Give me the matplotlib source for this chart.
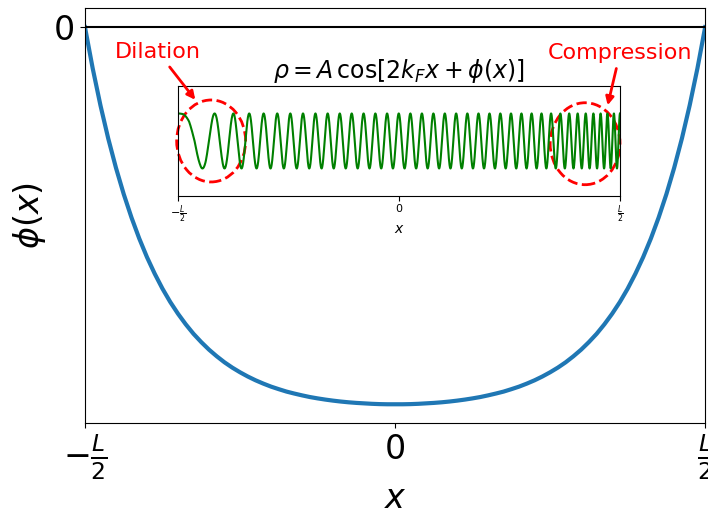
import numpy as np
import matplotlib.pyplot as plt
from matplotlib.patches import Ellipse

# phase phi(x) on a grid of step L/80 (x in units of L, phi in radians)
x_pts = np.linspace(-0.5, 0.5, 81)
phi_pts = [0.0, -2.74, -5.19, -7.38, -9.33, -11.07, -12.62, -14.01, -15.25, -16.35,
           -17.34, -18.22, -19.0, -19.7, -20.33, -20.88, -21.38, -21.82, -22.22, -22.57,
           -22.88, -23.16, -23.41, -23.63, -23.83, -24.0, -24.16, -24.29, -24.41, -24.52,
           -24.61, -24.69, -24.76, -24.82, -24.87, -24.91, -24.94, -24.97, -24.99, -25.0,
           -25.0,
           -25.0, -24.99, -24.97, -24.94, -24.91, -24.87, -24.82, -24.76, -24.69, -24.61,
           -24.52, -24.41, -24.29, -24.16, -24.0, -23.83, -23.63, -23.41, -23.16, -22.88,
           -22.57, -22.22, -21.82, -21.38, -20.88, -20.33, -19.7, -19.0, -18.22, -17.34,
           -16.35, -15.25, -14.01, -12.62, -11.07, -9.33, -7.38, -5.19, -2.74, 0.0]
kF = 119.38  # 2*kF*L = 76*pi
amp = 1.0

x_ticks = [-0.5, 0, 0.5]
x_labels = [r'$-\frac{L}{2}$', '0', r'$\frac{L}{2}$']

fig = plt.figure(figsize=(7.08, 5.16), dpi=100)
ax = fig.add_axes([0.120, 0.180, 0.876, 0.804])
ax.plot(x_pts, phi_pts, color='tab:blue', lw=3)
ax.axhline(0, color='black', lw=1.5)
ax.set_xlim(-0.5, 0.5)
ax.set_xticks(x_ticks)
ax.set_xticklabels(x_labels)
ax.set_yticks([0])
ax.set_yticklabels(['0'])
ax.tick_params(labelsize=24)
ax.set_xlabel(r'$x$', fontsize=24, labelpad=0)
ax.set_ylabel(r'$\phi(x)$', fontsize=24)

# inset: density wave built from the phase above
ax_in = fig.add_axes([0.2514, 0.6202, 0.6243, 0.2132])
xx = np.linspace(-0.5, 0.5, 4000)
rho = amp * np.cos(2 * kF * xx + np.interp(xx, x_pts, phi_pts))
ax_in.plot(xx, rho, color='green', lw=1.5)
ax_in.set_xlim(-0.5, 0.5)
ax_in.set_ylim(-2, 2)
ax_in.set_yticks([])
ax_in.set_xticks(x_ticks)
ax_in.set_xticklabels(x_labels)
ax_in.tick_params(labelsize=8, pad=2)
ax_in.set_xlabel(r'$x$', fontsize=10, labelpad=-2)
ax_in.set_title(r'$\rho = A\,\cos[2k_F x + \phi(x)]$', fontsize=17)

ax_in.add_patch(Ellipse((-0.425, 0.0), 0.156, 2.98, fill=False, ec='red',
                        ls='--', lw=2, clip_on=False))
ax_in.add_patch(Ellipse((0.421, -0.1), 0.158, 2.98, fill=False, ec='red',
                        ls='--', lw=2, clip_on=False))

ax_in.annotate('Dilation', xy=(197, 516 - 102), xycoords='figure pixels',
               xytext=(158, 516 - 52), textcoords='figure pixels',
               color='red', fontsize=16, ha='center', va='center',
               arrowprops=dict(arrowstyle='-|>', color='red', lw=2, mutation_scale=12))
ax_in.annotate('Compression', xy=(607, 516 - 108), xycoords='figure pixels',
               xytext=(620, 516 - 53), textcoords='figure pixels',
               color='red', fontsize=16, ha='center', va='center',
               arrowprops=dict(arrowstyle='-|>', color='red', lw=2, mutation_scale=12))

plt.savefig('out.png', dpi=100)
